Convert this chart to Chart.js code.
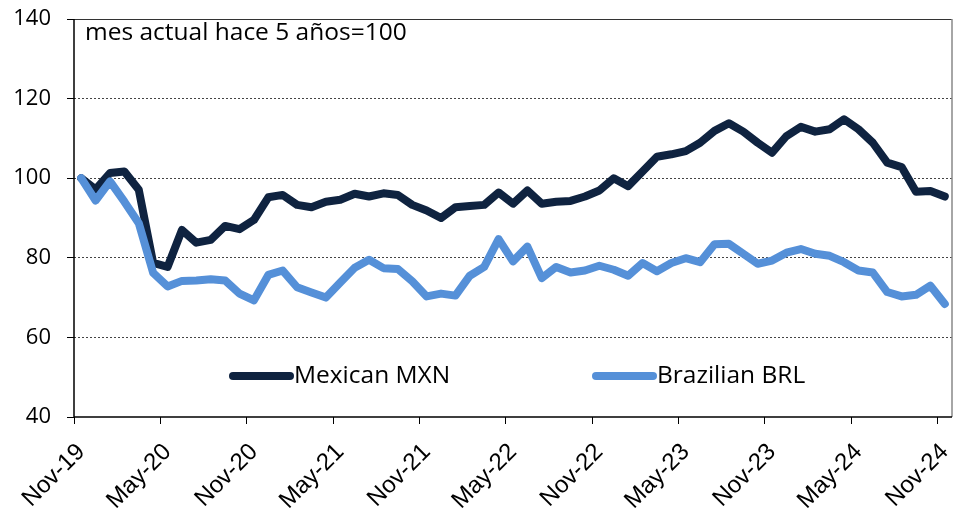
<!DOCTYPE html>
<html>
<head>
<meta charset="utf-8">
<script src="https://cdn.jsdelivr.net/npm/chart.js@4.4.1/dist/chart.umd.min.js"></script>
<style>
  html, body { margin:0; padding:0; background:#fff; }
  #wrap { width:958px; height:515px; }
</style>
</head>
<body>
<div id="wrap"><canvas id="fxChart" width="958" height="515"></canvas></div>
<script>
// monthly, Nov-19 .. Nov-24
const months = [
  "Nov-19","Dec-19",
  "Jan-20","Feb-20","Mar-20","Apr-20","May-20","Jun-20","Jul-20","Aug-20","Sep-20","Oct-20","Nov-20","Dec-20",
  "Jan-21","Feb-21","Mar-21","Apr-21","May-21","Jun-21","Jul-21","Aug-21","Sep-21","Oct-21","Nov-21","Dec-21",
  "Jan-22","Feb-22","Mar-22","Apr-22","May-22","Jun-22","Jul-22","Aug-22","Sep-22","Oct-22","Nov-22","Dec-22",
  "Jan-23","Feb-23","Mar-23","Apr-23","May-23","Jun-23","Jul-23","Aug-23","Sep-23","Oct-23","Nov-23","Dec-23",
  "Jan-24","Feb-24","Mar-24","Apr-24","May-24","Jun-24","Jul-24","Aug-24","Sep-24","Oct-24","Nov-24"
];

const mxn = [
  100, 97.2, 101.3, 101.7, 97.1, 78.7, 77.7, 87.0, 83.8, 84.5,
  88.0, 87.2, 89.5, 95.2, 95.8, 93.3, 92.7, 94.1, 94.6, 96.1,
  95.4, 96.2, 95.8, 93.3, 91.9, 90.0, 92.7, 93.0, 93.3, 96.4,
  93.6, 96.9, 93.6, 94.1, 94.3, 95.4, 96.9, 100.0, 98.0, 101.7,
  105.4, 106.0, 106.8, 108.9, 111.9, 113.8, 111.7, 108.9, 106.4, 110.6,
  112.9, 111.7, 112.3, 114.8, 112.3, 108.9, 103.9, 102.8, 96.6, 96.8,
  95.4
];

const brl = [
  100, 94.4, 99.2, 94.1, 88.7, 76.2, 72.8, 74.2, 74.3, 74.6,
  74.3, 71.0, 69.3, 75.7, 76.8, 72.6, 71.3, 70.0, 73.8, 77.5,
  79.5, 77.4, 77.2, 74.1, 70.3, 71.0, 70.5, 75.5, 77.7, 84.7,
  79.1, 82.8, 74.9, 77.7, 76.3, 76.8, 78.0, 77.0, 75.5, 78.7,
  76.6, 78.7, 79.9, 78.9, 83.4, 83.5, 81.0, 78.5, 79.3, 81.3,
  82.2, 81.0, 80.5, 78.9, 76.8, 76.3, 71.4, 70.3, 70.7, 73.0,
  68.4
];

const seriesNames = ["Mexican MXN", "Brazilian BRL"];
const note = "mes actual hace 5 años=100";

const NAVY = "#0f2340";
const BLUE = "#5590d8";
const TEXT_FONT = "24.5px 'Open Sans'";

// plot frame: black left/bottom axes, grey top/right
const framePlugin = {
  id: "frame",
  beforeDatasetsDraw(chart) {
    const { ctx, chartArea: a } = chart;
    ctx.save();
    ctx.lineWidth = 1;
    ctx.strokeStyle = "#333";
    ctx.beginPath(); ctx.moveTo(a.left, a.top + 0.5); ctx.lineTo(a.right, a.top + 0.5); ctx.stroke();
    ctx.strokeStyle = "#888";
    ctx.lineWidth = 1.5;
    ctx.beginPath(); ctx.moveTo(a.right, a.top); ctx.lineTo(a.right, a.bottom); ctx.stroke();
    ctx.strokeStyle = "#000";
    ctx.beginPath(); ctx.moveTo(a.left, a.top); ctx.lineTo(a.left, a.bottom); ctx.lineTo(a.right, a.bottom); ctx.stroke();
    ctx.restore();
  }
};

// legend drawn inside the plot, plus the note at top-left
const insideLegend = {
  id: "insideLegend",
  afterDatasetsDraw(chart) {
    const ctx = chart.ctx;
    const spots = [[233, 290], [596, 653]];
    const ly = 376;
    ctx.save();
    chart.data.datasets.forEach((ds, i) => {
      const [x1, x2] = spots[i];
      ctx.strokeStyle = ds.borderColor;
      ctx.lineWidth = 8;
      ctx.lineCap = "round";
      ctx.beginPath(); ctx.moveTo(x1, ly); ctx.lineTo(x2, ly); ctx.stroke();
      ctx.fillStyle = "#000";
      ctx.font = TEXT_FONT;
      ctx.textBaseline = "middle";
      ctx.fillText(ds.label, x2 + 4, ly);
    });
    ctx.font = TEXT_FONT;
    ctx.textBaseline = "middle";
    ctx.fillText(note, 85, 33);
    ctx.restore();
  }
};

const ctx = document.getElementById("fxChart").getContext("2d");
const chart = new Chart(ctx, {
  type: "line",
  data: {
    labels: months,
    datasets: [
      { label: seriesNames[0], data: mxn, borderColor: NAVY, borderWidth: 8, order: 1 },
      { label: seriesNames[1], data: brl, borderColor: BLUE, borderWidth: 8, order: 0 }
    ]
  },
  options: {
    responsive: false,
    animation: false,
    devicePixelRatio: 1,
    layout: { padding: { top: 19, right: 6, left: 0, bottom: 0 } },
    elements: {
      point: { radius: 0 },
      line: { tension: 0, borderJoinStyle: "round", borderCapStyle: "round" }
    },
    plugins: { legend: { display: false }, tooltip: { enabled: false } },
    scales: {
      x: {
        offset: true,
        grid: {
          offset: true,
          drawOnChartArea: false,
          tickLength: 7,
          color: c => (c.index % 6 === 0 ? "#000" : "transparent")
        },
        border: { display: false },
        ticks: {
          autoSkip: false,
          minRotation: 45,
          maxRotation: 45,
          padding: 14,
          color: "#000",
          font: { family: "'Liberation Sans', Arial, sans-serif", size: 24 },
          callback: (v, i) => (i % 6 === 0 ? months[i] : "")
        },
        afterFit: s => { s.height = 98; s.paddingLeft = 0; s.paddingRight = 0; }
      },
      y: {
        min: 40,
        max: 140,
        ticks: {
          stepSize: 20,
          padding: 16,
          color: "#000",
          font: { family: "'Open Sans', sans-serif", size: 22 }
        },
        grid: {
          color: c => (c.tick.value === 40 || c.tick.value === 140 ? "transparent" : "#444"),
          tickColor: "#000",
          tickLength: 7,
          lineWidth: 1
        },
        border: { display: false, dash: [2, 2] },
        afterFit: s => { s.width = 74; s.paddingTop = 0; s.paddingBottom = 0; }
      }
    }
  },
  plugins: [framePlugin, insideLegend]
});
</script>
</body>
</html>
